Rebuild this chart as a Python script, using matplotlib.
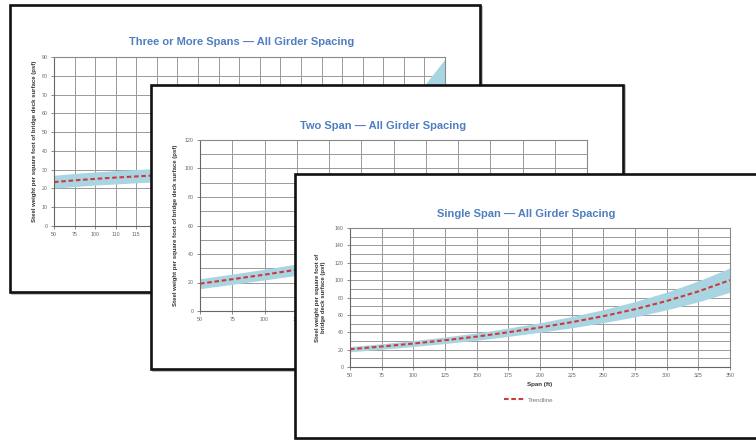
import matplotlib
matplotlib.use("Agg")
import matplotlib.pyplot as plt
import numpy as np
from matplotlib.patches import Rectangle

plt.rcParams['font.family'] = ['Liberation Sans', 'DejaVu Sans']

# ---------------- data ----------------
# Card 1: Three or More Spans (categorical spans)
three_labels = ["50", "75", "100", "110", "115", "120", "125", "130", "135", "140",
                "145", "150", "155", "160", "165", "170", "175", "180", "185", "190"]
three_trend = [23.4, 24.3, 25.1, 25.8, 26.4, 27.0, 27.6, 28.3, 29.2, 30.2,
               31.4, 32.8, 34.5, 36.5, 39.0, 42.0, 46.0, 51.0, 60.0, 72.0]
three_upper = [27.0, 28.0, 28.8, 29.5, 30.1, 30.6, 31.4, 32.5, 33.6, 35.0,
               36.5, 38.3, 40.5, 43.0, 46.0, 50.0, 55.0, 62.0, 75.0, 89.0]
three_lower = [20.2, 21.0, 21.8, 22.4, 23.0, 23.5, 24.0, 24.5, 25.0, 25.6,
               26.3, 27.3, 28.5, 30.0, 32.0, 34.0, 37.0, 40.0, 45.0, 55.0]

# Card 2: Two Span
span_x = [50, 75, 100, 125, 150, 175, 200, 225, 250, 275, 300, 325, 350]
two_trend = [19.2, 22.3, 25.5, 29.0, 32.5, 36.5, 41.0, 46.0, 51.0, 57.0, 63.0, 70.0, 77.0]
two_upper = [22.7, 25.9, 29.3, 33.0, 37.0, 41.5, 46.5, 52.0, 58.0, 65.0, 72.0, 80.0, 89.0]
two_lower = [15.7, 18.7, 21.8, 25.0, 28.2, 31.6, 35.5, 40.0, 44.5, 49.5, 54.5, 60.0, 66.0]

# Card 3: Single Span
single_trend = [20.5, 23.6, 27.0, 30.8, 35.0, 40.0, 45.5, 51.6, 58.5, 66.5, 76.0, 87.0, 100.0]
single_upper = [23.5, 26.8, 30.4, 34.6, 39.2, 44.8, 51.0, 58.1, 66.0, 75.3, 86.2, 99.0, 114.0]
single_lower = [17.5, 20.4, 23.6, 27.0, 30.8, 35.2, 40.0, 45.1, 51.0, 57.7, 65.8, 75.0, 86.0]

titles = ["Three or More Spans \u2014 All Girder Spacing",
          "Two Span \u2014 All Girder Spacing",
          "Single Span \u2014 All Girder Spacing"]
ylabel_1 = "Steel weight per square foot of bridge deck surface (psf)"
ylabel_3 = "Steel weight per square foot of\nbridge deck surface (psf)"
xlabel_3 = "Span (ft)"
legend_label = "Trendline"

# ---------------- style ----------------
W, H = 756, 440
TITLE_C = '#4f7fc0'
BAND_C = '#a9d5e3'
LINE_C = '#cc3a3a'
GRID_C = '#9a9a9a'
TICK_C = '#666666'

fig = plt.figure(figsize=(W / 100, H / 100), dpi=100)
fig.patch.set_facecolor('white')


def fx(x):
    return x / W


def fy(y):
    return 1 - y / H


def card(x0, y0, x1, y1, z):
    sh = Rectangle((fx(x0 + 1.5), fy(y1 + 1.5)), fx(x1 - x0), (y1 - y0) / H,
                   transform=fig.transFigure, facecolor='none',
                   edgecolor='#b5b5b5', lw=1.2, zorder=z - 0.1)
    fig.add_artist(sh)
    r = Rectangle((fx(x0), fy(y1)), fx(x1 - x0), (y1 - y0) / H,
                  transform=fig.transFigure, facecolor='white',
                  edgecolor='#111111', lw=1.9, zorder=z)
    fig.add_artist(r)


def make_ax(l, t, r, b, z):
    ax = fig.add_axes([fx(l), fy(b), fx(r - l), (b - t) / H])
    ax.set_zorder(z)
    ax.set_facecolor('white')
    ax.set_axisbelow(True)
    for s in ax.spines.values():
        s.set_color('#8a8a8a')
        s.set_linewidth(0.8)
    ax.spines['left'].set_color('#666666')
    ax.spines['bottom'].set_color('#666666')
    ax.tick_params(axis='both', length=2.5, width=0.6, color='#777777',
                   labelsize=3.8, labelcolor=TICK_C, pad=2)
    ax.grid(True, which='both', color=GRID_C, lw=0.7)
    return ax


def set_title(ax, text, xf, yf):
    ax.text(xf, yf, text, transform=ax.transAxes, ha='center', va='center',
            fontsize=8, fontweight='bold', color=TITLE_C)


dash = (0, (2.2, 1.3))

# ---------------- card 1 ----------------
card(10, 5, 480, 292, 1)
ax1 = make_ax(54, 57, 445, 226, 2)
pos1 = np.arange(len(three_labels))
ax1.fill_between(pos1, three_lower, three_upper, color=BAND_C, lw=0, zorder=2)
ax1.plot(pos1, three_trend, color=LINE_C, lw=1.5, ls=dash, zorder=3)
ax1.set_xlim(0, len(three_labels) - 1)
ax1.set_ylim(0, 90)
ax1.set_xticks(pos1)
ax1.set_xticklabels(three_labels)
ax1.set_yticks(np.arange(0, 91, 10))
ax1.set_ylabel(ylabel_1, fontsize=4.3, fontweight='bold', color='#333333')
ax1.yaxis.set_label_coords(-0.043, 0.5)
set_title(ax1, titles[0], (242 - 54) / 391, 1 + (57 - 42) / 169)
# labels lying under the second card are not visible
for i, lab in enumerate(ax1.get_xticklabels()):
    if i >= 5:
        lab.set_visible(False)

# ---------------- card 2 ----------------
card(151, 85, 623, 369, 3)
ax2 = make_ax(200, 140, 587, 311, 4)
ax2.fill_between(span_x, two_lower, two_upper, color=BAND_C, lw=0, zorder=2)
ax2.plot(span_x, two_trend, color=LINE_C, lw=1.5, ls=dash, zorder=3)
ax2.set_xlim(50, 350)
ax2.set_ylim(0, 120)
ax2.set_xticks(span_x)
ax2.set_yticks(np.arange(0, 121, 20))
ax2.set_yticks(np.arange(0, 121, 10), minor=True)
ax2.tick_params(axis='y', which='minor', length=0)
ax2.set_ylabel(ylabel_1, fontsize=4.3, fontweight='bold', color='#333333')
ax2.yaxis.set_label_coords(-0.057, 0.5)
set_title(ax2, titles[1], (383 - 200) / 387, 1 + (140 - 125.7) / 171)
for i, lab in enumerate(ax2.get_xticklabels()):
    if i >= 4:
        lab.set_visible(False)

# ---------------- card 3 ----------------
card(295, 174, 775, 438, 5)
ax3 = make_ax(350, 228, 730, 367, 6)
ax3.fill_between(span_x, single_lower, single_upper, color=BAND_C, lw=0, zorder=2)
ax3.plot(span_x, single_trend, color=LINE_C, lw=1.5, ls=dash, zorder=3,
         label=legend_label)
ax3.set_xlim(50, 350)
ax3.set_ylim(0, 160)
ax3.set_xticks(span_x)
ax3.set_yticks(np.arange(0, 161, 20))
ax3.set_yticks(np.arange(0, 161, 10), minor=True)
ax3.tick_params(axis='y', which='minor', length=0)
ax3.set_ylabel(ylabel_3, fontsize=4.3, fontweight='bold', color='#333333',
               linespacing=1.1)
ax3.yaxis.set_label_coords(-0.064, 0.5)
ax3.set_xlabel(xlabel_3, fontsize=4.5, fontweight='bold', color='#333333',
               labelpad=3)
set_title(ax3, titles[2], (526 - 350) / 380, 1 + (228 - 214) / 139)
leg = ax3.legend(loc='center', bbox_to_anchor=(0.47, -0.237), frameon=False,
                 fontsize=4.5, handlelength=3.2, handletextpad=0.6)
for t in leg.get_texts():
    t.set_color('#777777')

fig.savefig('out.png', dpi=100, facecolor='white')
